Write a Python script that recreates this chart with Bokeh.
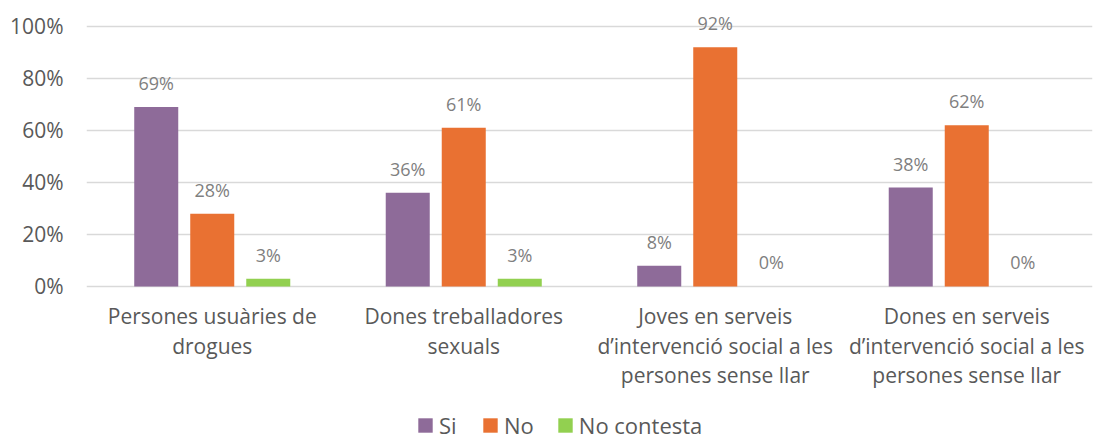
from bokeh.plotting import figure
from bokeh.models import ColumnDataSource, FactorRange, FixedTicker, Legend, LegendItem
from bokeh.transform import dodge
from bokeh.core.properties import value
from bokeh.embed import file_html
from bokeh.resources import INLINE

categories = ["Persones usuàries de\ndrogues", "Dones treballadores\nsexuals",
              "Joves en serveis\nd\u2019intervenció social a les\npersones sense llar",
              "Dones en serveis\nd\u2019intervenció social a les\npersones sense llar"]
si = [69, 36, 8, 38]
no = [28, 61, 92, 62]
no_contesta = [3, 3, 0, 0]
series_names = ["Si", "No", "No contesta"]
colors = ["#8E6B99", "#E97132", "#92D050"]
y_ticks = [0, 20, 40, 60, 80, 100]

FONT = "Open Sans"
# frame extends below the 0 baseline so that category labels and legend live inside it
p = figure(frame_width=1006, frame_height=435, x_range=FactorRange(*categories, range_padding=0),
           y_range=(-59.2, 108), output_backend="svg", toolbar_location=None,
           min_border_left=86, min_border_top=5, min_border_right=5, min_border_bottom=0)
p.outline_line_color = None

offs = [-0.2227, 0.0, 0.2227]
data = [si, no, no_contesta]
items = []
for name, vals, col, off in zip(series_names, data, colors, offs):
    src = ColumnDataSource(dict(cat=categories, v=vals, lab=[f"{v}%" for v in vals]))
    r = p.vbar(x=dodge("cat", off, range=p.x_range), top="v", width=0.175, source=src,
               fill_color=col, line_color=None)
    p.text(x=dodge("cat", off, range=p.x_range), y="v", text="lab", source=src,
           text_align="center", text_baseline="alphabetic", y_offset=-24,
           text_font=value(FONT), text_font_size="18px", text_color="#7F7F7F")
    items.append(LegendItem(label=name, renderers=[r]))

# category labels under the baseline
cat_src = ColumnDataSource(dict(cat=categories, base=[0] * len(categories)))
p.text(x="cat", y="base", text="cat", source=cat_src, text_align="center",
       text_baseline="top", y_offset=16, text_line_height=1.05,
       text_font=value(FONT), text_font_size="21px", text_color="#595959")

p.yaxis.ticker = FixedTicker(ticks=y_ticks)
p.yaxis.major_label_overrides = {t: f"{t}%" for t in y_ticks}
p.yaxis.axis_line_color = None
p.yaxis.major_tick_line_color = None
p.yaxis.minor_tick_line_color = None
p.yaxis.major_label_text_font = FONT
p.yaxis.major_label_text_font_size = "21px"
p.yaxis.major_label_text_color = "#595959"
p.yaxis.major_label_standoff = 17

p.xaxis.visible = False
p.xgrid.grid_line_color = None
p.ygrid.grid_line_color = "#D9D9D9"
p.ygrid.grid_line_width = 1.5

legend = Legend(items=items, orientation="horizontal", location=(330, 0),
                label_text_font=FONT, label_text_font_size="22px", label_text_color="#595959",
                glyph_width=18, glyph_height=18, spacing=22, label_standoff=5,
                border_line_color=None, background_fill_alpha=0, margin=0, padding=0,
                label_height=18)
p.add_layout(legend, "center")

open("out.html", "w").write(file_html(p, INLINE))
